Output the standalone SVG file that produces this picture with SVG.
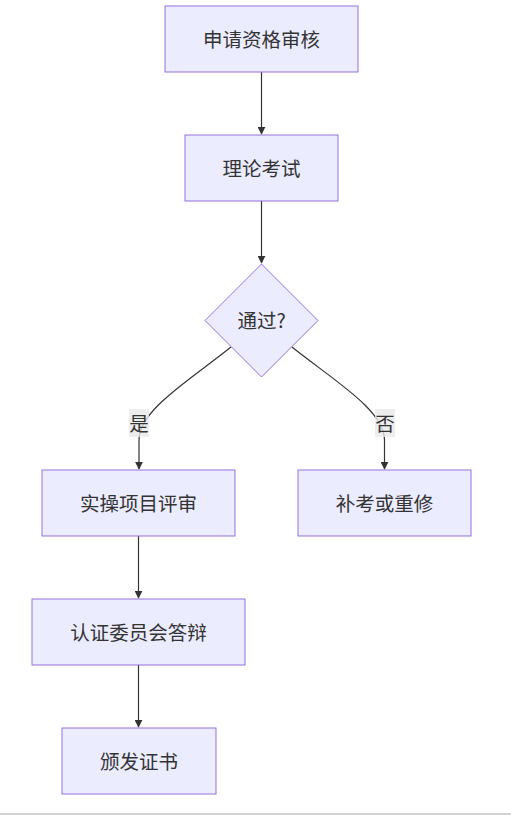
<svg xmlns="http://www.w3.org/2000/svg" width="511" height="815" viewBox="0 0 511 815">
<style>
.node rect,.node polygon{fill:#ECECFF;stroke:#9370DB;stroke-width:1}
text{font-family:"Noto Sans CJK SC","Liberation Sans",sans-serif;font-size:19.5px;fill:#333;text-anchor:middle;dominant-baseline:central}
.edge{fill:none;stroke:#333;stroke-width:1.2}
.lbl rect{fill:#e8e8e8;opacity:0.8}
</style>
<defs>
<marker id="arr" viewBox="0 0 10 10" refX="9" refY="5" markerWidth="8" markerHeight="8" markerUnits="userSpaceOnUse" orient="auto">
<path d="M0,0L10,5L0,10z" fill="#333"/>
</marker>
</defs>
<rect x="0" y="813" width="511" height="2" fill="#d3d3d3"/>
<g id="connectors">
<path class="edge" d="M261.5,72L261.5,134" marker-end="url(#arr)"/>
<path class="edge" d="M261.5,201L261.5,263" marker-end="url(#arr)"/>
<path class="edge" d="M231,347C190,380 139,410 139,440L139,469" marker-end="url(#arr)"/>
<path class="edge" d="M292,347C333,380 384.5,410 384.5,440L384.5,469" marker-end="url(#arr)"/>
<path class="edge" d="M138.5,536L138.5,598" marker-end="url(#arr)"/>
<path class="edge" d="M138.5,665L138.5,727" marker-end="url(#arr)"/>
<g class="lbl"><rect x="129" y="409" width="20" height="28"/><text x="139" y="422">是</text></g>
<g class="lbl"><rect x="375" y="409" width="20" height="28"/><text x="385" y="422">否</text></g>
</g>
<g id="n1" class="node"><rect x="165" y="6" width="193" height="66"/><text x="261.5" y="38">申请资格审核</text></g>
<g id="n2" class="node"><rect x="185" y="135" width="153" height="66"/><text x="261.5" y="167">理论考试</text></g>
<g id="n3" class="node"><polygon points="261.5,264 318,320.5 261.5,377 205,320.5"/><text x="261.5" y="319.5">通过?</text></g>
<g id="n4" class="node"><rect x="42" y="470" width="193" height="66"/><text x="138.5" y="502">实操项目评审</text></g>
<g id="n5" class="node"><rect x="298" y="470" width="173" height="66"/><text x="384.5" y="502">补考或重修</text></g>
<g id="n6" class="node"><rect x="32" y="599" width="213" height="66"/><text x="138.5" y="631">认证委员会答辩</text></g>
<g id="n7" class="node"><rect x="62" y="728" width="154" height="66"/><text x="139" y="760">颁发证书</text></g>
</svg>
